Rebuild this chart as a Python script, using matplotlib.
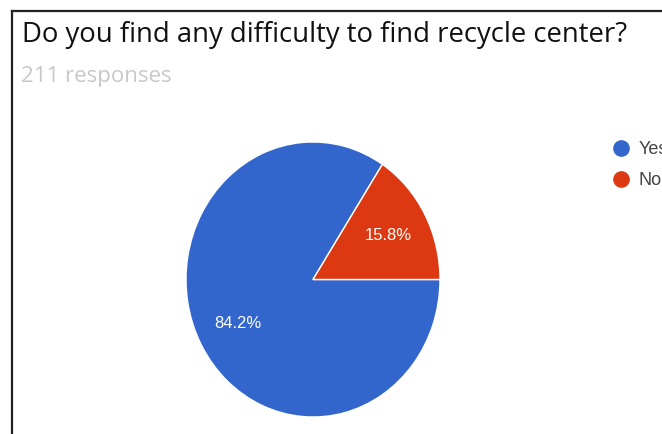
import matplotlib.pyplot as plt
from matplotlib.lines import Line2D

# survey answers (percent of 211 responses)
labels = ["Yes", "No"]
valores = [84.2, 15.8]
cores = ["#3366cc", "#dc3912"]

titulo = "Do you find any difficulty to find recycle center?"
subtitulo = "211 responses"

fig = plt.figure(figsize=(6.62, 4.34), dpi=100)
fig.patch.set_facecolor("white")

# pie (slightly squeezed horizontally like the screenshot)
ax = fig.add_axes([186 / 662, 17 / 434, 254 / 662, 275 / 434])
wedges, textos, autotextos = ax.pie(
  valores,
  colors=cores,
  startangle=0,
  counterclock=False,
  autopct="%1.1f%%",
  pctdistance=0.67,
  wedgeprops=dict(edgecolor="white", linewidth=1),
  textprops=dict(color="white", fontsize=12, family="Liberation Sans"),
)
ax.set_aspect("auto")
ax.set_xlim(-1, 1)
ax.set_ylim(-1, 1)

# title texts
fig.text(22 / 662, 1 - 42 / 434, titulo, fontsize=19.8, family="Open Sans",
         color="#111111", va="baseline", ha="left")
fig.text(21 / 662, 1 - 82 / 434, subtitulo, fontsize=16, family="Open Sans",
         color="#c8c8c8", va="baseline", ha="left")

# legend with round markers (cut by the right edge, as in the screenshot)
handles = [Line2D([], [], marker="o", linestyle="", markersize=11,
                  markerfacecolor=c, markeredgecolor=c) for c in cores]
fig.legend(handles, labels, loc="upper left",
           bbox_to_anchor=(615 / 662, 1 - 141 / 434),
           frameon=False, handlelength=0.7, handletextpad=0.6,
           labelspacing=0.78, borderpad=0, borderaxespad=0,
           prop=dict(family="Liberation Sans", size=13), labelcolor="#444444")

# frame lines of the screenshot
fig.add_artist(Line2D([12 / 662, 1], [1 - 10.5 / 434, 1 - 10.5 / 434],
                      color="#222222", linewidth=1.6))
fig.add_artist(Line2D([12 / 662, 12 / 662], [0, 1 - 10.5 / 434],
                      color="#222222", linewidth=1.6))

plt.savefig("out.png", dpi=100)
